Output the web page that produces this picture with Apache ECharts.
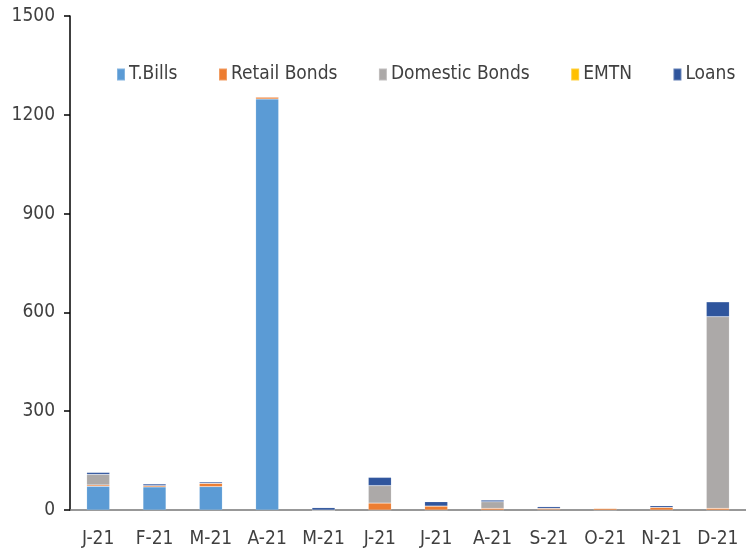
<!DOCTYPE html>
<html>
<head>
<meta charset="utf-8">
<script src="https://cdn.jsdelivr.net/npm/echarts@6/dist/echarts.min.js"></script>
<style>
html, body { margin: 0; padding: 0; background: #fff; }
#chart { width: 746px; height: 556px; }
</style>
</head>
<body>
<div id="chart"></div>
<script>
var months = ['J-21', 'F-21', 'M-21', 'A-21', 'M-21', 'J-21', 'J-21', 'A-21', 'S-21', 'O-21', 'N-21', 'D-21'];
var tBills = [72, 70, 71, 1248, 0, 0, 0, 0, 1, 0, 0, 0];
var retailBonds = [4, 4, 10, 6, 0, 21, 12, 5, 4, 5, 8, 5];
var domesticBonds = [32, 0, 0, 0, 0, 53, 0, 20, 0, 0, 0, 582];
var emtn = [0, 0, 0, 0, 0, 0, 0, 0, 0, 0, 0, 0];
var loans = [6, 5, 4, 0, 7, 25, 13, 5, 5, 0, 5, 45];
var yTicks = [0, 300, 600, 900, 1200, 1500];

var font = '"DejaVu Sans Condensed", "DejaVu Sans", sans-serif';
var myChart = echarts.init(document.getElementById('chart'));

function barSeries(name, data, color) {
    return {
        name: name,
        type: 'bar',
        stack: 'total',
        barWidth: 23,
        data: data,
        itemStyle: { color: color, borderColor: 'rgba(255,255,255,0.25)', borderWidth: 0.5 }
    };
}

var option = {
    animation: false,
    textStyle: { fontFamily: font },
    legend: {
        left: 111,
        top: 60,
        itemWidth: 8,
        itemHeight: 12,
        itemGap: 40.5,
        icon: 'rect',
        textStyle: { fontSize: 19, color: '#404040', fontFamily: font, padding: [0, 0, 0, -1] },
        data: ['T.Bills', 'Retail Bonds', 'Domestic Bonds', 'EMTN', 'Loans']
    },
    grid: { left: 70, right: -4, top: 16, bottom: 46, containLabel: false },
    xAxis: {
        type: 'category',
        data: months,
        axisLine: { lineStyle: { color: '#777', width: 1.5 } },
        axisTick: { show: false },
        axisLabel: { fontSize: 19, color: '#404040', margin: 20 }
    },
    yAxis: {
        type: 'value',
        min: yTicks[0],
        max: yTicks[yTicks.length - 1],
        interval: 300,
        axisLine: { show: true, lineStyle: { color: '#000', width: 1.5 } },
        axisTick: { show: true, length: 6, lineStyle: { color: '#000', width: 1.5 } },
        splitLine: { show: false },
        axisLabel: { fontSize: 19, color: '#404040', margin: 15, formatter: function (v) { return String(v); } }
    },
    series: [
        barSeries('T.Bills', tBills, '#5B9BD5'),
        barSeries('Retail Bonds', retailBonds, '#ED7D31'),
        barSeries('Domestic Bonds', domesticBonds, '#ACA9A8'),
        barSeries('EMTN', emtn, '#FFC000'),
        barSeries('Loans', loans, '#2F559D')
    ]
};

myChart.setOption(option);
</script>
</body>
</html>
